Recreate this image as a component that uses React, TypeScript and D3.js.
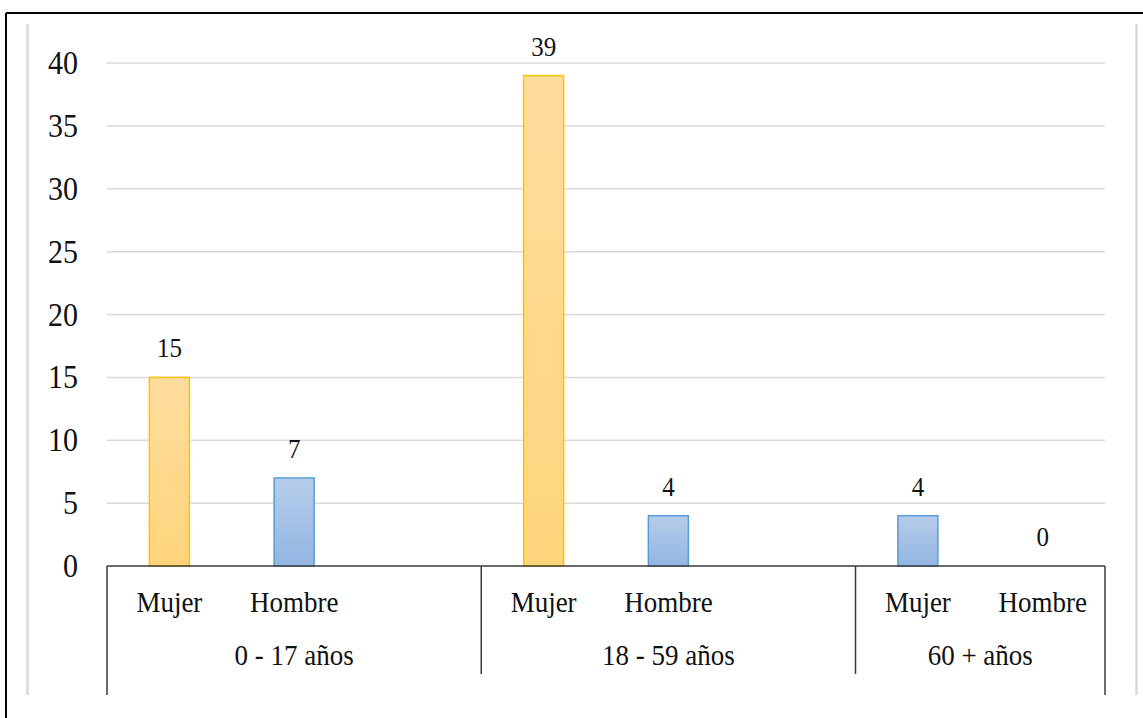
import React from "react";
import * as d3 from "d3";

const groupLabels = ["0 - 17 años", "18 - 59 años", "60 + años"];
// slot category labels (blank slots separate the groups)
const slotLabels = ["Mujer", "Hombre", "", "Mujer", "Hombre", "", "Mujer", "Hombre"];
const slotGroup = [0, 0, 0, 1, 1, 1, 2, 2];
const orangeValues: (number | null)[] = [15, null, null, 39, null, null, null, null];
const blueValues: (number | null)[] = [null, 7, null, null, 4, null, 4, 0];
const yTicks = [0, 5, 10, 15, 20, 25, 30, 35, 40];

const W = 1143;
const H = 718;
const left = 107;
const right = 1105;
const baseY = 566;
const topY = 63;
const FONT = "\"Liberation Serif\", \"Times New Roman\", Tinos, \"DejaVu Serif\", serif";
const SY = 1.1;

export default function App() {
  const x = d3.scaleBand<number>().domain(d3.range(slotLabels.length)).range([left, right]);
  const y = d3.scaleLinear().domain([0, 40]).range([baseY, topY]);
  const barW = 40;

  const bars: { i: number; v: number; kind: "o" | "b" }[] = [];
  orangeValues.forEach((v, i) => { if (v !== null) bars.push({ i, v, kind: "o" }); });
  blueValues.forEach((v, i) => { if (v !== null) bars.push({ i, v, kind: "b" }); });

  const groupExt = groupLabels.map((_, g) => {
    const idx = slotGroup.map((gg, i) => (gg === g ? i : -1)).filter((i) => i >= 0);
    const x0 = x(idx[0])!;
    const x1 = x(idx[idx.length - 1])! + x.bandwidth();
    return { x0, x1 };
  });

  const txt = (key: string, tx: number, ty: number, s: string, size: number, anchor = "middle") => (
    <text
      key={key}
      transform={`translate(${tx},${ty}) scale(1,${SY})`}
      style={{ fontFamily: FONT, fontSize: size + "px" }}
      textAnchor={anchor}
      fill="#111"
    >
      {s}
    </text>
  );

  return (
    <svg width={W} height={H} style={{ position: "absolute", left: 0, top: 0, background: "#fff" }}>
      <defs>
        <linearGradient id="gO" x1="0" y1="0" x2="0" y2="1">
          <stop offset="0" stopColor="#FFDD9E" />
          <stop offset="1" stopColor="#FFD47C" />
        </linearGradient>
        <linearGradient id="gB" x1="0" y1="0" x2="0" y2="1">
          <stop offset="0" stopColor="#B5CCEA" />
          <stop offset="1" stopColor="#93B6E2" />
        </linearGradient>
      </defs>
      <line x1={6} y1={13} x2={W} y2={13} stroke="#000" strokeWidth={2} />
      <line x1={6} y1={13} x2={6} y2={H} stroke="#000" strokeWidth={2} />
      <line x1={27.5} y1={24} x2={27.5} y2={695} stroke="#D9D9D9" strokeWidth={2.5} />
      <line x1={1136.5} y1={24} x2={1136.5} y2={695} stroke="#D9D9D9" strokeWidth={2.5} />

      {yTicks.filter((t) => t > 0).map((t) => (
        <line key={"g" + t} x1={left} x2={right} y1={y(t)} y2={y(t)} stroke="#D9D9D9" strokeWidth={1.5} />
      ))}
      {yTicks.map((t) => txt("yt" + t, 78, y(t) + 11, String(t), 30, "end"))}

      {bars.map((b) => {
        const cx = x(b.i)! + x.bandwidth() / 2;
        const yy = y(b.v);
        const h = baseY - yy;
        return h > 0 ? (
          <rect
            key={"b" + b.kind + b.i}
            x={cx - barW / 2}
            y={yy}
            width={barW}
            height={h}
            fill={b.kind === "o" ? "url(#gO)" : "url(#gB)"}
            stroke={b.kind === "o" ? "#FFC000" : "#5B9BD5"}
            strokeWidth={1.5}
          />
        ) : null;
      })}
      {bars.map((b) => txt("l" + b.kind + b.i, x(b.i)! + x.bandwidth() / 2, y(b.v) - 20, String(b.v), 25))}

      <line x1={left} x2={right} y1={baseY} y2={baseY} stroke="#3a3a3a" strokeWidth={1.5} />
      <line x1={left} x2={left} y1={baseY} y2={695} stroke="#3a3a3a" strokeWidth={1.5} />
      <line x1={right} x2={right} y1={baseY} y2={695} stroke="#3a3a3a" strokeWidth={1.5} />
      {groupExt.slice(0, -1).map((g, i) => (
        <line key={"sep" + i} x1={g.x1} x2={g.x1} y1={baseY} y2={674} stroke="#3a3a3a" strokeWidth={1.5} />
      ))}
      {slotLabels.map((s, i) => (s ? txt("c" + i, x(i)! + x.bandwidth() / 2, 612, s, 27) : null))}
      {groupExt.map((g, i) => txt("gl" + i, (g.x0 + g.x1) / 2, 665, groupLabels[i], 27))}
    </svg>
  );
}
